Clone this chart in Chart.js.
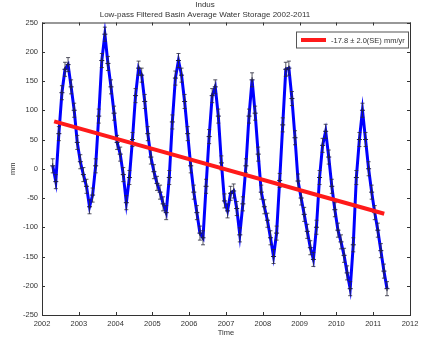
<!DOCTYPE html>
<html>
<head>
<meta charset="utf-8">
<script src="https://cdn.jsdelivr.net/npm/chart.js@4.4.1/dist/chart.umd.min.js"></script>
<style>
  html, body { margin: 0; padding: 0; background: #fff; }
</style>
</head>
<body>
<canvas id="chart" width="432" height="347"></canvas>
<script>
// Indus - monthly basin average water storage (mm), Apr 2002 .. May 2011
const startYear = 2002;
const startMonth = 4; // April
const storage = [
  5, -22, 60, 130, 170, 178, 140, 100, 45,                  // 2002 Apr-Dec
  12, -10, -30, -65, -45, 5, 90, 185, 230, 180, 140, 95,    // 2003
  45, 25, -10, -58, -15, 50, 125, 172, 160, 115, 60, 20,    // 2004
  -5, -25, -40, -60, -75, -15, 80, 155, 185, 160, 115, 60,  // 2005
  5, -40, -75, -110, -118, -30, 55, 125, 140, 90, 10, -55,  // 2006
  -72, -42, -38, -68, -113, -60, 5, 90, 152, 95, 25, -40,   // 2007
  -65, -88, -118, -150, -110, -20, 75, 170, 172, 120, 53, -21, // 2008
  -50, -78, -107, -135, -155, -100, -15, 40, 64, 20, -30, -70, // 2009
  -105, -125, -148, -178, -205, -130, -15, 50, 100, 50, 0, -40, // 2010
  -75, -105, -140, -175, -205                               // 2011 Jan-May
];
const sigma = 12; // error bar half-length, mm

// linear trend
const trendX = [2002.33, 2011.3];
const trendY = [81, -77];
const trendLabel = '-17.8 \u00b1 2.0(SE) mm/yr';

const yTicks = [-250, 250, 50];
const xTicks = [2002, 2012, 1];

const FONT = '"Liberation Sans", Arial, sans-serif';
const INK = '#333';

const points = storage.map((v, i) => ({ x: startYear + (startMonth - 0.5 + i) / 12, y: v }));
const trend = trendX.map((x, i) => ({ x, y: trendY[i] }));

// matlab-ish box with inward ticks + legend in the corner
const frame = {
  id: 'frame',
  afterDatasetDraw(chart, args) {
    if (args.index !== 1) return;
    const { ctx, scales: { x, y } } = chart;
    ctx.save();
    ctx.strokeStyle = '#2a2a3a';
    ctx.lineWidth = 0.8;
    points.forEach(p => {
      const px = x.getPixelForValue(p.x);
      const y0 = y.getPixelForValue(p.y - sigma);
      const y1 = y.getPixelForValue(p.y + sigma);
      ctx.beginPath();
      ctx.moveTo(px, y0); ctx.lineTo(px, y1);
      ctx.moveTo(px - 2, y0); ctx.lineTo(px + 2, y0);
      ctx.moveTo(px - 2, y1); ctx.lineTo(px + 2, y1);
      ctx.stroke();
    });
    ctx.restore();
  },
  afterDraw(chart) {
    const { ctx, chartArea: a, scales: { x, y } } = chart;
    ctx.save();
    ctx.strokeStyle = INK;
    ctx.lineWidth = 1;
    ctx.strokeRect(a.left + 0.5, a.top + 0.5, a.width, a.height);
    ctx.beginPath();
    x.ticks.forEach(t => {
      const px = Math.round(x.getPixelForValue(t.value)) + 0.5;
      ctx.moveTo(px, a.bottom); ctx.lineTo(px, a.bottom - 3);
      ctx.moveTo(px, a.top); ctx.lineTo(px, a.top + 3);
    });
    y.ticks.forEach(t => {
      const py = Math.round(y.getPixelForValue(t.value)) + 0.5;
      ctx.moveTo(a.left, py); ctx.lineTo(a.left + 3, py);
      ctx.moveTo(a.right, py); ctx.lineTo(a.right - 3, py);
    });
    ctx.stroke();

    // legend
    const lx = a.right - 114, ly = a.top + 9, lw = 112, lh = 16;
    ctx.fillStyle = '#fff';
    ctx.fillRect(lx, ly, lw, lh);
    ctx.strokeStyle = '#555';
    ctx.strokeRect(lx + 0.5, ly + 0.5, lw, lh);
    ctx.strokeStyle = '#ff1a1a';
    ctx.lineWidth = 4;
    ctx.beginPath();
    ctx.moveTo(lx + 5, ly + lh / 2 + 0.5); ctx.lineTo(lx + 30, ly + lh / 2 + 0.5);
    ctx.stroke();
    ctx.fillStyle = INK;
    ctx.font = '7.5px ' + FONT;
    ctx.textBaseline = 'middle';
    ctx.fillText(chart.data.datasets[0].label, lx + 35, ly + lh / 2 + 1);
    ctx.restore();
  }
};

new Chart(document.getElementById('chart'), {
  type: 'scatter',
  data: {
    datasets: [
      {
        label: trendLabel,
        data: trend,
        showLine: true,
        borderColor: '#ff1a1a',
        borderWidth: 4,
        pointRadius: 0,
      },
      {
        label: 'storage',
        data: points,
        showLine: true,
        borderColor: '#0000ff',
        borderWidth: 3,
        pointStyle: 'cross',
        pointRadius: 2.5,
        pointBorderWidth: 1,
        pointBorderColor: '#1a1a4a',
      },
    ],
  },
  options: {
    responsive: false,
    animation: false,
    layout: { padding: { left: 0, right: 22, top: 0, bottom: 0 } },
    scales: {
      x: {
        type: 'linear',
        min: xTicks[0], max: xTicks[1],
        grid: { display: false, drawTicks: false },
        border: { display: false },
        ticks: {
          stepSize: xTicks[2], padding: 4, color: INK,
          font: { family: FONT, size: 7.5 },
          callback: v => String(v),
        },
        title: { display: true, text: 'Time', color: INK, font: { family: FONT, size: 7.5 }, padding: { top: 0, bottom: 10 } },
        afterFit(s) { s.height = 32; },
      },
      y: {
        min: yTicks[0], max: yTicks[1],
        grid: { display: false, drawTicks: false },
        border: { display: false },
        ticks: {
          stepSize: yTicks[2], padding: 4, color: INK,
          font: { family: FONT, size: 7.5 },
          callback: v => String(v),
        },
        title: { display: true, text: 'mm', color: INK, font: { family: FONT, size: 7.5 }, padding: { top: 8, bottom: 0 } },
        afterFit(s) { s.width = 42; },
      },
    },
    plugins: {
      legend: { display: false },
      tooltip: { enabled: false },
      title: {
        display: true, text: 'Indus', color: INK,
        font: { family: FONT, size: 8, weight: 'normal' },
        padding: { top: 0, bottom: 0 },
      },
      subtitle: {
        display: true, text: 'Low-pass Filtered Basin Average Water Storage 2002-2011', color: INK,
        font: { family: FONT, size: 8 },
        padding: { top: 0, bottom: 3.3 },
      },
    },
  },
  plugins: [frame],
});
</script>
</body>
</html>
